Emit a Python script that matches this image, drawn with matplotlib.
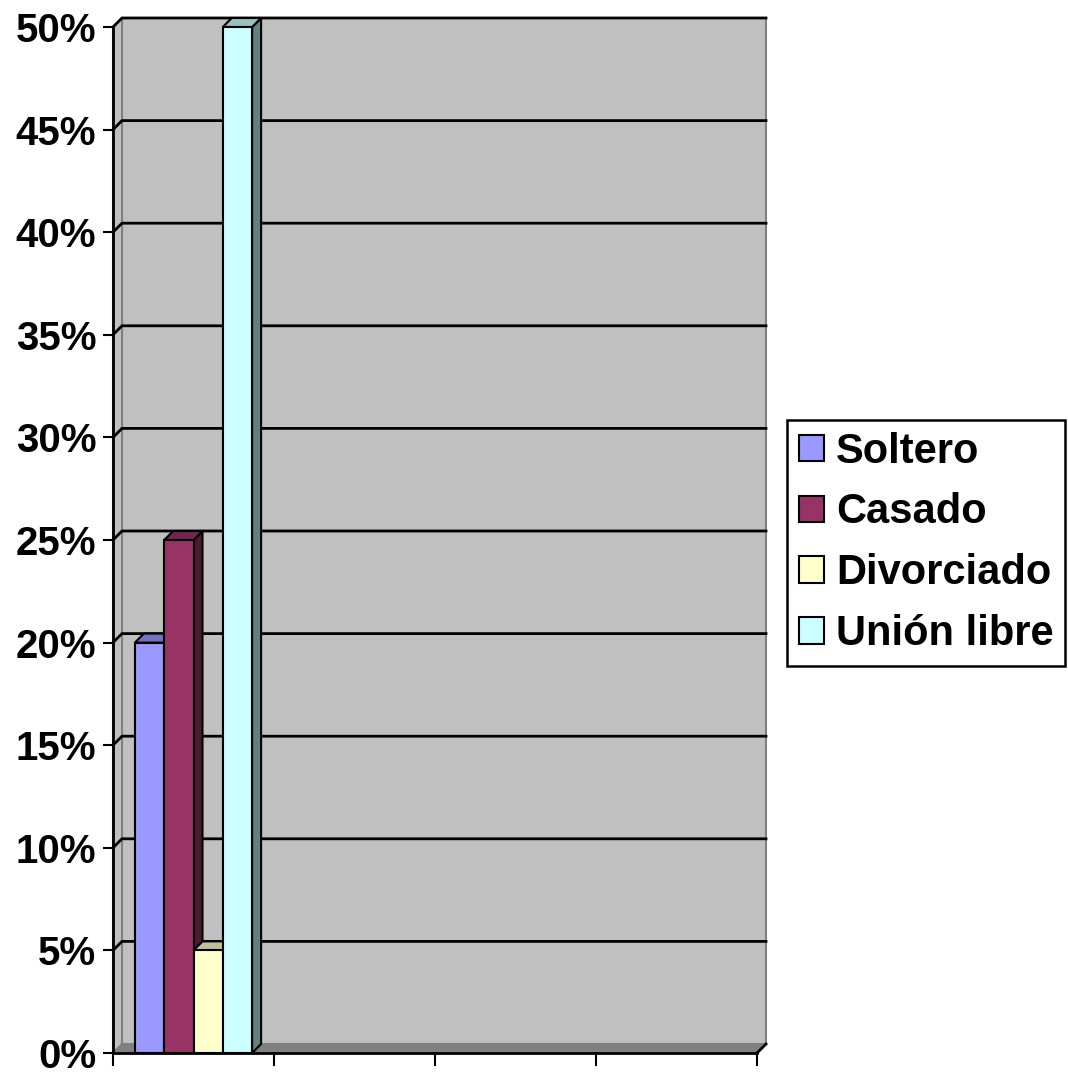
import numpy as np
import matplotlib
matplotlib.use("Agg")
import matplotlib.pyplot as plt
from matplotlib.patches import Rectangle, Polygon

plt.rcParams["font.family"] = ["Liberation Sans", "DejaVu Sans"]
plt.rcParams["font.weight"] = "bold"

# data: one category group, 4 series (percent)
series = ["Soltero", "Casado", "Divorciado", "Unión libre"]
values = [20, 25, 5, 50]
colors = ["#9999FF", "#993366", "#FFFFCC", "#CCFFFF"]
n_categories = 4
yticks = [0, 5, 10, 15, 20, 25, 30, 35, 40, 45, 50]
ytick_labels = [f"{t}%" for t in yticks]

W, H = 1068, 1074
fig = plt.figure(figsize=(W / 100, H / 100), dpi=100, facecolor="white")
# front plane of the 3d box, in pixels
x0_px, x1_px, ytop_px, ybot_px = 113, 757, 27, 1053
ax = fig.add_axes([x0_px / W, 1 - ybot_px / H, (x1_px - x0_px) / W, (ybot_px - ytop_px) / H])
ax.set_xlim(0, n_categories)
ax.set_ylim(0, 50)
ax.patch.set_visible(False)

# depth of the fake 3d effect, converted from pixels to data units
depth_px = 9
dx = depth_px * n_categories / (x1_px - x0_px)
dy = depth_px * 50 / (ybot_px - ytop_px)

wall_grey = "#C0C0C0"
edge_grey = "#808080"

# back wall
ax.add_patch(Rectangle((dx, dy), n_categories, 50, facecolor=wall_grey,
                       edgecolor=edge_grey, lw=1.5, clip_on=False, zorder=0))
# left side wall
ax.add_patch(Polygon([(0, 0), (0, 50), (dx, 50 + dy), (dx, dy)], closed=True,
                     facecolor=wall_grey, edgecolor=edge_grey, lw=1.5, clip_on=False, zorder=0.5))
# floor
ax.add_patch(Polygon([(0, 0), (n_categories, 0), (n_categories + dx, dy), (dx, dy)], closed=True,
                     facecolor=edge_grey, edgecolor=edge_grey, lw=1, clip_on=False, zorder=0.6))

# gridlines on side and back wall
for t in yticks[1:]:
    ax.plot([0, dx, n_categories + dx], [t, t + dy, t + dy], color="black", lw=2,
            clip_on=False, zorder=1, solid_joinstyle="miter")
# right floor edge
ax.plot([n_categories, n_categories + dx], [0, dy], color="black", lw=2, clip_on=False, zorder=1)


def shade(c, f):
    rgb = np.array(matplotlib.colors.to_rgb(c))
    return tuple(rgb * f)


bw = 0.182
for i, (name, v, c) in enumerate(zip(series, values, colors)):
    xl = 0.5 + (i - len(series) / 2) * bw
    z = 2 + i
    ax.add_patch(Polygon([(xl + bw, 0), (xl + bw + dx, dy), (xl + bw + dx, v + dy), (xl + bw, v)],
                         closed=True, facecolor=shade(c, 0.5), edgecolor="black", lw=1.5,
                         clip_on=False, zorder=z))
    ax.add_patch(Polygon([(xl, v), (xl + bw, v), (xl + bw + dx, v + dy), (xl + dx, v + dy)],
                         closed=True, facecolor=shade(c, 0.75), edgecolor="black", lw=1.5,
                         clip_on=False, zorder=z))
    ax.add_patch(Rectangle((xl, 0), bw, v, facecolor=c, edgecolor="black", lw=1.5,
                           clip_on=False, zorder=z + 0.5, label=name))

for s in ["top", "right"]:
    ax.spines[s].set_visible(False)
for s in ["left", "bottom"]:
    ax.spines[s].set_linewidth(2)
    ax.spines[s].set_zorder(10)

ax.set_yticks(yticks)
ax.set_yticklabels(ytick_labels, fontsize=29, fontweight="bold")
ax.set_xticks(range(n_categories + 1))
ax.set_xticklabels([])
ax.tick_params(axis="y", direction="out", length=7, width=1.5, pad=5)
ax.tick_params(axis="x", direction="out", length=9.5, width=1.5)

leg = fig.legend(loc="upper left", bbox_to_anchor=(787 / W, 1 - 420 / H),
                 fontsize=30, frameon=True, fancybox=False, shadow=False, framealpha=1,
                 handlelength=0.6, handleheight=0.6, handletextpad=0.3,
                 labelspacing=0.5, borderpad=0.28, borderaxespad=0)
leg.get_frame().set_edgecolor("black")
leg.get_frame().set_linewidth(1.8)
for t in leg.get_texts():
    t.set_fontweight("bold")

fig.savefig("out.png", dpi=100, facecolor="white")
